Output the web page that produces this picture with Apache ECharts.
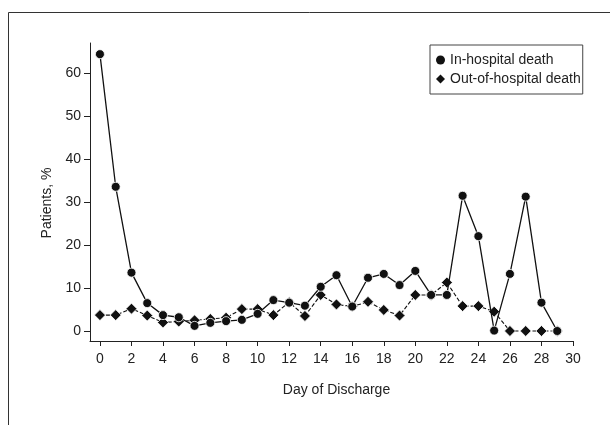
<!DOCTYPE html>
<html>
<head>
<meta charset="utf-8">
<script src="https://cdn.jsdelivr.net/npm/echarts@6/dist/echarts.min.js"></script>
<style>
  html, body { margin: 0; padding: 0; background: #fff; }
  #chart { width: 610px; height: 425px; }
</style>
</head>
<body>
<div id="chart"></div>
<script>
// day of discharge (x values)
let days = [0, 1, 2, 3, 4, 5, 6, 7, 8, 9, 10, 11, 12, 13, 14, 15, 16, 17, 18, 19, 20, 21, 22, 23, 24, 25, 26, 27, 28, 29];

// patients, %
let inHospital = [64.5, 33.6, 13.6, 6.5, 3.7, 3.2, 1.2, 1.9, 2.3, 2.6, 4.0, 7.2, 6.6, 5.9, 10.3, 13.0, 5.7, 12.4, 13.3, 10.7, 14.0, 8.4, 8.4, 31.5, 22.1, 0.1, 13.3, 31.3, 6.6, 0];
let outHospital = [3.7, 3.7, 5.2, 3.6, 2.0, 2.2, 2.5, 2.8, 3.1, 5.1, 5.1, 3.7, 6.7, 3.5, 8.4, 6.2, 5.7, 6.8, 4.9, 3.6, 8.4, 8.4, 11.3, 5.8, 5.8, 4.5, 0, 0, 0, 0];

let xTicks = [0, 2, 4, 6, 8, 10, 12, 14, 16, 18, 20, 22, 24, 26, 28, 30];
let yTicks = [0, 10, 20, 30, 40, 50, 60];

let fontName = "'Liberation Sans', Arial, sans-serif";
let ink = '#222';

let chart = echarts.init(document.getElementById('chart'), null, { renderer: 'canvas' });

function pairs(ys) {
    return days.map(function (d, i) { return [d, ys[i]]; });
}

let option = {
    animation: false,
    backgroundColor: '#fff',
    textStyle: { fontFamily: fontName, color: ink },
    grid: { left: 90, right: 37, top: 43, bottom: 84 },
    graphic: [{
        type: 'polyline',
        shape: { points: [[8.5, 425], [8.5, 12.5], [610, 12.5]] },
        style: { stroke: '#333', lineWidth: 1, fill: null },
        silent: true
    }],
    legend: {
        orient: 'vertical',
        left: 430,
        top: 45,
        padding: [8, 2, 8, 6],
        itemGap: 5,
        itemWidth: 9,
        itemHeight: 9,
        borderColor: '#444',
        borderWidth: 1,
        backgroundColor: '#fff',
        itemStyle: { borderWidth: 0 },
        textStyle: { fontFamily: fontName, fontSize: 14, color: ink },
        data: [
            { name: 'In-hospital death', icon: 'circle' },
            { name: 'Out-of-hospital death', icon: 'diamond' }
        ]
    },
    xAxis: {
        type: 'value',
        min: -0.63,
        max: 30,
        name: 'Day of Discharge',
        nameLocation: 'middle',
        nameGap: 42,
        nameTextStyle: { fontFamily: fontName, fontSize: 14, color: ink, padding: [0, 0, 0, 10] },
        splitLine: { show: false },
        axisLine: { show: true, onZero: false, lineStyle: { color: ink, width: 1 } },
        axisTick: { show: true, length: 5, customValues: xTicks, lineStyle: { color: ink } },
        axisLabel: { customValues: xTicks, margin: 11, fontSize: 14, color: ink, fontFamily: fontName }
    },
    yAxis: {
        type: 'value',
        min: -2.33,
        max: 67.1,
        name: 'Patients, %',
        nameLocation: 'middle',
        nameGap: 30,
        nameTextStyle: { fontFamily: fontName, fontSize: 14, color: ink, padding: [0, 22, 0, 0] },
        splitLine: { show: false },
        axisLine: { show: true, onZero: false, lineStyle: { color: ink, width: 1 } },
        axisTick: { show: true, length: 6, customValues: yTicks, lineStyle: { color: ink } },
        axisLabel: { customValues: yTicks, margin: 9, fontSize: 14, color: ink, fontFamily: fontName }
    },
    series: [{
        name: 'Out-of-hospital death',
        type: 'line',
        data: pairs(outHospital),
        symbol: 'diamond',
        symbolSize: [11, 11],
        itemStyle: { color: '#111', borderColor: '#fff', borderWidth: 0.8 },
        lineStyle: { color: '#111', width: 1.1, type: [4, 2] },
        z: 2
    }, {
        name: 'In-hospital death',
        type: 'line',
        data: pairs(inHospital),
        symbol: 'circle',
        symbolSize: 9,
        itemStyle: { color: '#111', borderColor: '#fff', borderWidth: 0.8 },
        lineStyle: { color: '#111', width: 1.3 },
        z: 3
    }]
};

chart.setOption(option);
</script>
</body>
</html>
